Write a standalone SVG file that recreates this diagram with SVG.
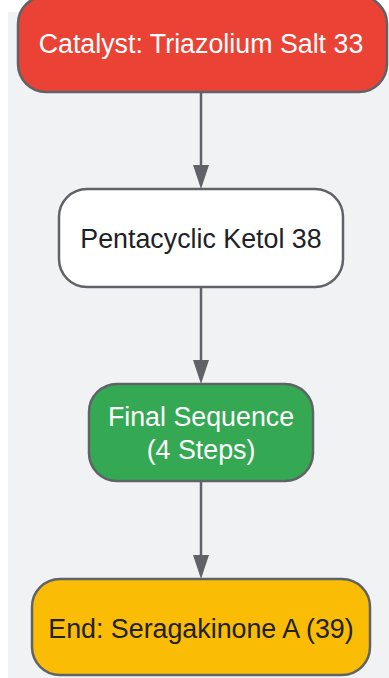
<svg xmlns="http://www.w3.org/2000/svg" width="389" height="678" viewBox="0 0 389 678">
<style>
.node{stroke:#5f6368;stroke-width:2.5}
.lbl{font-family:"Liberation Sans",Arial,sans-serif;font-size:26.8px;text-anchor:middle;dominant-baseline:central}
.edge{stroke:#5f6368;stroke-width:2.5;fill:none}
</style>
<defs>
<marker id="arr" markerUnits="userSpaceOnUse" markerWidth="24" markerHeight="16" refX="13" refY="8" orient="auto" viewBox="0 0 24 16">
<path d="M0,0 L24,8 L0,16 Z" fill="#5f6368"/>
</marker>
</defs>
<rect x="0" y="0" width="389" height="678" fill="#ffffff"/>
<rect x="8" y="12" width="381" height="666" fill="#f1f2f4"/>
<g id="edges">
<line class="edge" x1="201" y1="92" x2="201" y2="178" marker-end="url(#arr)"/>
<line class="edge" x1="201" y1="287" x2="201" y2="373" marker-end="url(#arr)"/>
<line class="edge" x1="201" y1="481" x2="201" y2="568" marker-end="url(#arr)"/>
</g>
<g id="catalyst">
<rect class="node" x="18" y="-4" width="369" height="96" rx="28" fill="#ea4335"/>
<text class="lbl" x="201" y="44" fill="#ffffff">Catalyst: Triazolium Salt 33</text>
</g>
<g id="ketol">
<rect class="node" x="59" y="189" width="284" height="98" rx="28" fill="#ffffff"/>
<text class="lbl" x="201" y="239" fill="#202124">Pentacyclic Ketol 38</text>
</g>
<g id="final">
<rect class="node" x="89" y="384" width="224" height="97" rx="28" fill="#34a853"/>
<text class="lbl" x="201" y="417" fill="#ffffff">Final Sequence</text>
<text class="lbl" x="201" y="450" fill="#ffffff">(4 Steps)</text>
</g>
<g id="end">
<rect class="node" x="32" y="579" width="338" height="96" rx="28" fill="#fbbc05"/>
<text class="lbl" x="201" y="629" fill="#202124">End: Seragakinone A (39)</text>
</g>
</svg>
